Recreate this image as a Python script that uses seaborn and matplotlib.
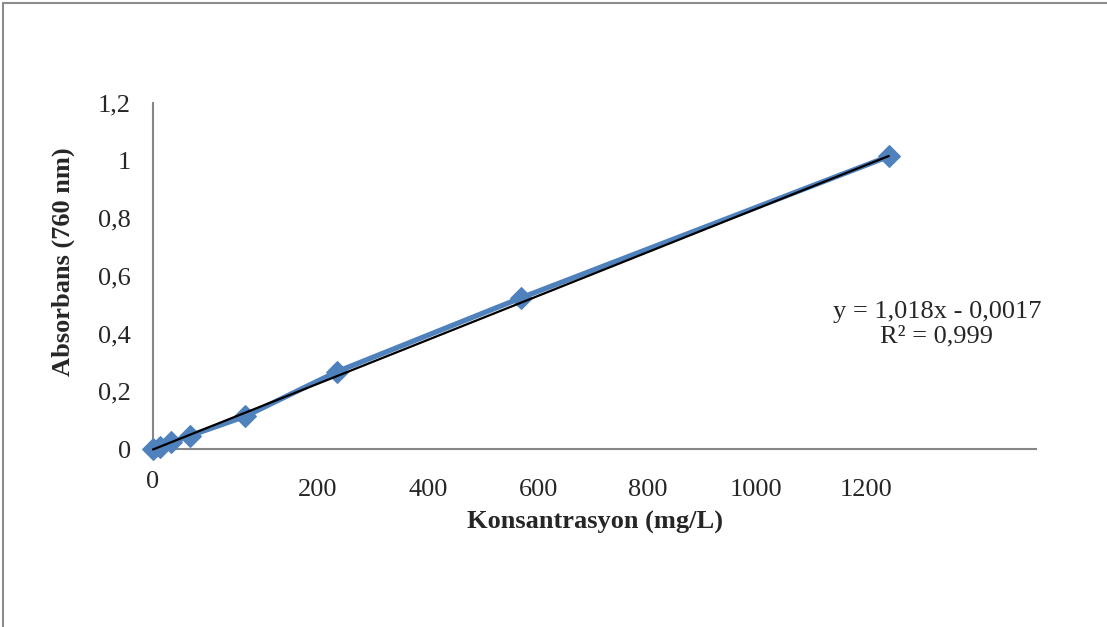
import numpy as np
import pandas as pd
import seaborn as sns
import matplotlib.pyplot as plt
from matplotlib.lines import Line2D

# Calibration data
konsantrasyon = [0.0, 0.01, 0.025, 0.05, 0.125, 0.25, 0.5, 1.0]
absorbans = [0.0, 0.008, 0.024, 0.046, 0.113, 0.268, 0.524, 1.015]

# Linear fit reported on the chart
slope = 1.018
intercept = -0.0017
r2 = 0.999

# Concentration labels along the x axis (mg/L) and where they sit
xtick_labels = ["0", "200", "400", "600", "800", "1000", "1200"]
xtick_pos = [0.0, 0.224, 0.374, 0.524, 0.673, 0.820, 0.969]

ytick_vals = [0, 0.2, 0.4, 0.6, 0.8, 1.0, 1.2]
ytick_labels = ["0", "0,2", "0,4", "0,6", "0,8", "1", "1,2"]

FS = 19

sns.set_style("white")
plt.rcParams["font.family"] = ["Liberation Serif", "DejaVu Serif"]

W, H = 1107, 627
fig = plt.figure(figsize=(W / 100, H / 100), dpi=100)
ax = fig.add_axes([153 / W, 178 / H, (1036 - 153) / W, (449 - 103) / H])

df = pd.DataFrame({"x": konsantrasyon, "y": absorbans})
sns.lineplot(data=df, x="x", y="y", ax=ax, color="#4F81BD", linewidth=3.8,
             marker="D", markersize=11, markeredgecolor="#4F81BD", zorder=4,
             clip_on=False)

fit_x = np.array([0.0, max(konsantrasyon)])
fit_df = pd.DataFrame({"x": fit_x, "y": slope * fit_x + intercept})
sns.lineplot(data=fit_df, x="x", y="y", ax=ax, color="black", linewidth=1.6, zorder=5,
             clip_on=False)

ax.set_xlim(0, 1.2)
ax.set_ylim(0, 1.2)
ax.set_yticks(ytick_vals)
ax.set_yticklabels(ytick_labels, fontsize=FS)
ax.tick_params(axis="y", length=0, pad=16)
ax.set_xticks([])

for lab, pos in zip(xtick_labels, xtick_pos):
    dy = -0.095 if lab == "0" else -0.118
    ax.text(pos, dy, lab, transform=ax.get_xaxis_transform(),
            ha="center", va="center", fontsize=FS)

ax.set_xlabel("")
ax.set_ylabel("")
fig.text(63 / W, 1 - 262 / H, "Absorbans (760 nm)", rotation=90, ha="center", va="center",
         fontsize=FS, fontweight="bold")
fig.text(595 / W, 1 - 522 / H, "Konsantrasyon (mg/L)", ha="center", va="center",
         fontsize=FS, fontweight="bold")

for side in ["top", "right"]:
    ax.spines[side].set_visible(False)
for side in ["left", "bottom"]:
    ax.spines[side].set_color("#868686")
    ax.spines[side].set_linewidth(1.5)

eq = (f"y = {str(slope).replace('.', ',')}x - {str(-intercept).replace('.', ',')}\n"
      f"R² = {str(r2).replace('.', ',')}")
fig.text(937 / W, 1 - 324 / H, eq, ha="center", va="center", fontsize=FS, linespacing=1.15)

# Outer chart frame
fig.add_artist(Line2D([3 / W, 3 / W], [0, 1 - 3 / H], color="#8c8c8c", linewidth=1.5))
fig.add_artist(Line2D([3 / W, 1], [1 - 3 / H, 1 - 3 / H], color="#8c8c8c", linewidth=1.5))

fig.savefig("out.png", dpi=100)
